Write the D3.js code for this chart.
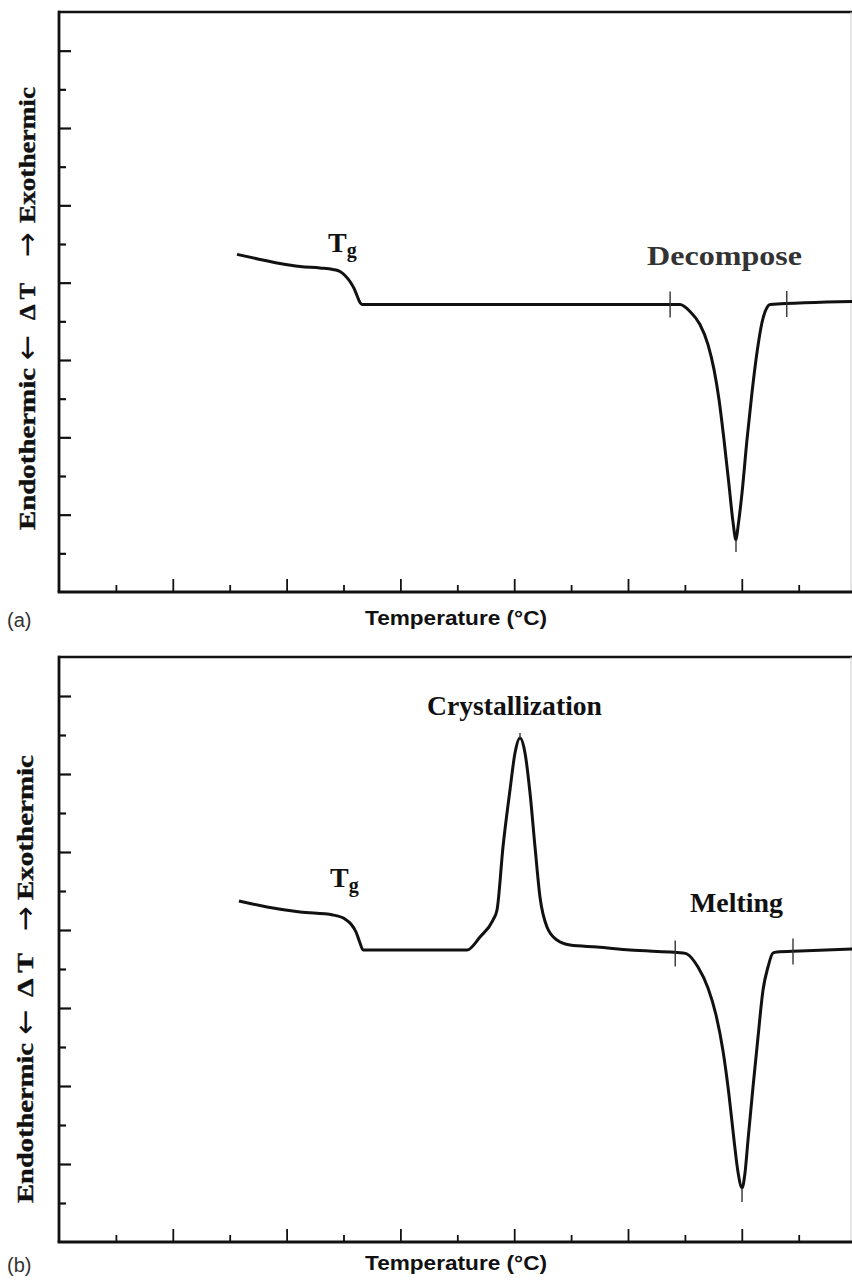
<!DOCTYPE html>
<html>
<head>
<meta charset="utf-8">
<script src="https://cdn.jsdelivr.net/npm/d3@7"></script>
<style>
  html, body { margin: 0; padding: 0; background: #fff; }
  svg { display: block; }
</style>
</head>
<body>
<svg id="chart" width="852" height="1280"></svg>
<script>
// ---------- data (temperature in arbitrary axis units, ΔT in arbitrary units) ----------
const xMajorTicks = [2, 4, 6, 8, 10, 12, 14];
const xMinorTicks = [1, 3, 5, 7, 9, 11, 13];
const yMajorTicks = [2, 4, 6, 8, 10, 12, 14];
const yMinorTicks = [1, 3, 5, 7, 9, 11, 13];

// (a) glass transition then decomposition
const tempA = [3.128, 3.533, 3.884, 4.236, 4.587, 4.815, 4.938, 5.026, 5.114, 5.185, 5.237, 5.290, 5.325,
  6.872, 9.508, 10.914, 11.090, 11.265, 11.406, 11.512, 11.600, 11.687, 11.775, 11.845, 11.898, 11.933, 12.004,
  12.091, 12.179, 12.267, 12.355, 12.443, 12.496, 13.937];
const dtA = [8.731, 8.601, 8.497, 8.420, 8.381, 8.342, 8.290, 8.187, 8.031, 7.850, 7.668, 7.487, 7.435,
  7.435, 7.435, 7.435, 7.254, 6.917, 6.399, 5.751, 4.974, 3.938, 2.772, 1.813, 1.347, 1.684, 2.565,
  3.938, 5.155, 6.192, 6.969, 7.358, 7.435, 7.513];

// (b) glass transition, crystallization, melting
const tempB = [3.163, 3.656, 4.236, 4.815, 5.026, 5.131, 5.220, 5.290, 5.343, 5.993, 7.170, 7.399, 7.627,
  7.698, 7.803, 7.926, 8.014, 8.102, 8.190, 8.278, 8.366, 8.453, 8.576, 8.752, 8.981, 9.455, 10.035,
  10.967, 11.037, 11.230, 11.406, 11.547, 11.670, 11.775, 11.863, 11.933, 12.004, 12.056, 12.109,
  12.197, 12.285, 12.373, 12.460, 12.548, 12.618, 13.023, 13.937];
const dtB = [8.744, 8.590, 8.462, 8.385, 8.282, 8.154, 7.949, 7.667, 7.487, 7.487, 7.487, 7.821, 8.256,
  8.513, 10.128, 11.590, 12.538, 12.923, 12.538, 11.513, 10.128, 8.846, 8.077, 7.744, 7.615, 7.564, 7.487,
  7.410, 7.385, 7.051, 6.513, 5.821, 4.897, 3.769, 2.615, 1.795, 1.385, 1.769, 2.615,
  3.974, 5.256, 6.462, 7.051, 7.410, 7.436, 7.462, 7.513];

// onset / end markers drawn across the curve
const markersA = [[10.74, 7.435], [12.79, 7.45]];
const markersB = [[10.83, 7.40], [12.90, 7.45]];
// peak markers [temp, peak value, tick end value]
const peakA = [[11.898, 1.347, 1.036]];
const peakB = [[12.004, 1.385, 1.026], [8.102, 12.923, 13.05]];

// ---------- drawing ----------
const svg = d3.select("#chart");
const W = 852;
const SERIF = "'Liberation Serif','Times New Roman',serif";
const SANS = "'Liberation Sans',Arial,sans-serif";

const panels = [
  { id: "a", top: 12, bottom: 592, temp: tempA, dt: dtA, markers: markersA, peaks: peakA,
    tag: "(a)", tagY: 627, xlabY: 625, ylab: { x: 35, parts: [
      { t: "Endothermic", a: 368, b: 530 }, { t: "\u2190", a: 332, b: 363, arrow: true },
      { t: "\u0394 T", a: 283, b: 320 }, { t: "\u2192", a: 230, b: 260, arrow: true },
      { t: "Exothermic", a: 87, b: 223 } ] },
    labels: [ { t: "Decompose", x: 647, y: 265, w: 155, fill: "#333" } ],
    tg: { x: 328, y: 252 } },
  { id: "b", top: 657, bottom: 1242, temp: tempB, dt: dtB, markers: markersB, peaks: peakB,
    tag: "(b)", tagY: 1272, xlabY: 1270, ylab: { x: 33, parts: [
      { t: "Endothermic", a: 1043, b: 1203 }, { t: "\u2190", a: 1007, b: 1037, arrow: true },
      { t: "\u0394 T", a: 953, b: 997 }, { t: "\u2192", a: 905, b: 933, arrow: true },
      { t: "Exothermic", a: 755, b: 900 } ] },
    labels: [ { t: "Crystallization", x: 427, y: 715, w: 175, fill: "#111" },
              { t: "Melting", x: 690, y: 912, w: 93, fill: "#111" } ],
    tg: { x: 330, y: 887 } }
];

const x = d3.scaleLinear().domain([0, 14]).range([59, 855.6]);

panels.forEach(p => {
  const y = d3.scaleLinear().domain([0, 15]).range([p.bottom, p.top]);
  const g = svg.append("g");

  // frame: top border, faint right edge
  g.append("line").attr("x1", 58).attr("x2", W).attr("y1", y(15)).attr("y2", y(15))
    .attr("stroke", "#111").attr("stroke-width", 2.4);
  g.append("line").attr("x1", 851).attr("x2", 851).attr("y1", y(15)).attr("y2", y(0))
    .attr("stroke", "#ccc").attr("stroke-width", 1);

  // y ticks (inward)
  const yMaj = d3.axisRight(y).tickValues(yMajorTicks).tickSize(12).tickFormat("");
  const yMin = d3.axisRight(y).tickValues(yMinorTicks).tickSize(7).tickFormat("");
  [yMaj, yMin].forEach(ax => {
    const a = g.append("g").attr("transform", `translate(${x(0)},0)`).call(ax);
    a.select(".domain").remove();
    a.selectAll(".tick line").attr("stroke", "#111").attr("stroke-width", 2.2);
  });
  // x ticks (inward)
  const xMaj = d3.axisTop(x).tickValues(xMajorTicks).tickSize(13).tickFormat("");
  const xMin = d3.axisTop(x).tickValues(xMinorTicks).tickSize(7).tickFormat("");
  [xMaj, xMin].forEach(ax => {
    const a = g.append("g").attr("transform", `translate(0,${y(0)})`).call(ax);
    a.select(".domain").remove();
    a.selectAll(".tick line").attr("stroke", "#111").attr("stroke-width", 1.8);
  });

  // axes lines
  g.append("line").attr("x1", x(0)).attr("x2", x(0)).attr("y1", y(15) - 1.2).attr("y2", y(0))
    .attr("stroke", "#111").attr("stroke-width", 2.8);
  g.append("line").attr("x1", x(0) - 1.4).attr("x2", W).attr("y1", y(0)).attr("y2", y(0))
    .attr("stroke", "#111").attr("stroke-width", 3.2);

  // curve
  const pts = p.temp.map((t, i) => [t, p.dt[i]]);
  const line = d3.line().x(d => x(d[0])).y(d => y(d[1])).curve(d3.curveMonotoneX);
  g.append("path").attr("d", line(pts)).attr("fill", "none")
    .attr("stroke", "#111").attr("stroke-width", 3).attr("stroke-linejoin", "round");

  // onset/end markers
  p.markers.forEach(m => {
    g.append("line").attr("x1", x(m[0])).attr("x2", x(m[0]))
      .attr("y1", y(m[1]) - 13).attr("y2", y(m[1]) + 13)
      .attr("stroke", "#333").attr("stroke-width", 1.4);
  });
  p.peaks.forEach(m => {
    g.append("line").attr("x1", x(m[0])).attr("x2", x(m[0]))
      .attr("y1", y(m[1])).attr("y2", y(m[2]))
      .attr("stroke", "#333").attr("stroke-width", 1.4);
  });

  // Tg label
  const tg = g.append("text").attr("x", p.tg.x).attr("y", p.tg.y)
    .attr("font-family", SERIF)
    .attr("font-weight", "bold").attr("font-size", 28).attr("fill", "#111");
  tg.append("tspan").text("T");
  tg.append("tspan").attr("dy", 5).attr("font-size", 20).text("g");

  // peak labels
  p.labels.forEach(l => {
    g.append("text").attr("x", l.x).attr("y", l.y).text(l.t)
      .attr("font-family", SERIF)
      .attr("font-weight", "bold").attr("font-size", 27).attr("fill", l.fill)
      .attr("textLength", l.w).attr("lengthAdjust", "spacingAndGlyphs");
  });

  // y label (rotated, pieces)
  p.ylab.parts.forEach(part => {
    if (part.arrow) {
      const cy = (part.a + part.b) / 2, bx = p.ylab.x + 2;
      g.append("text").attr("x", bx).attr("y", cy)
        .attr("transform", `rotate(-90,${bx},${cy})`)
        .attr("text-anchor", "middle")
        .attr("font-family", "'DejaVu Sans',sans-serif")
        .attr("font-size", 30).attr("fill", "#111")
        .text(part.t);
    } else {
      g.append("text").attr("x", p.ylab.x).attr("y", part.b)
        .attr("transform", `rotate(-90,${p.ylab.x},${part.b})`)
        .attr("font-family", SERIF)
        .attr("font-weight", "bold").attr("font-size", 23).attr("fill", "#111")
        .attr("stroke", "#111").attr("stroke-width", 0.4)
        .attr("textLength", part.b - part.a).attr("lengthAdjust", "spacingAndGlyphs")
        .text(part.t);
    }
  });

  // x label
  g.append("text").attr("x", 456).attr("y", p.xlabY).attr("text-anchor", "middle")
    .attr("font-family", SANS).attr("font-weight", "bold")
    .attr("font-size", 20).attr("fill", "#111")
    .attr("textLength", 182).attr("lengthAdjust", "spacingAndGlyphs")
    .text("Temperature (\u00B0C)");

  // panel tag
  g.append("text").attr("x", 7).attr("y", p.tagY)
    .attr("font-family", SANS)
    .attr("font-size", 20).attr("fill", "#333").text(p.tag);
});
</script>
</body>
</html>
